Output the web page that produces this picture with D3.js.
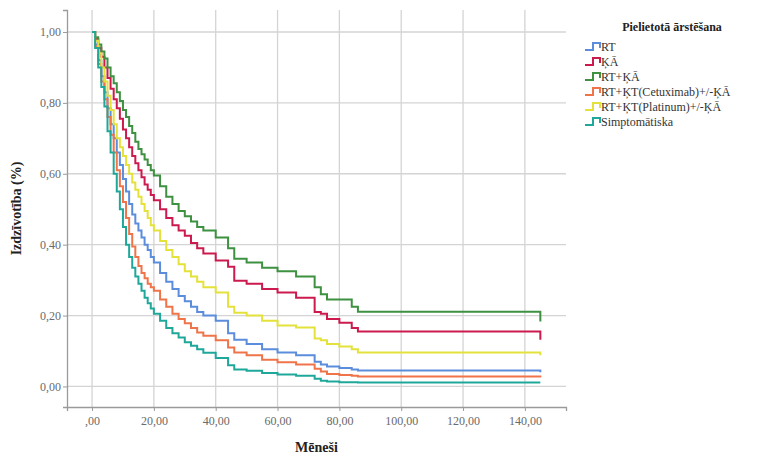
<!DOCTYPE html>
<html>
<head>
<meta charset="utf-8">
<script src="https://cdn.jsdelivr.net/npm/d3@7"></script>
<style>
    body { margin: 0; background: #fff; }
    svg text { font-family: "Liberation Serif", "Times New Roman", Times, "DejaVu Serif", serif !important; }
</style>
</head>
<body>
<div id="chart"></div>
<script>
// Time points (months) shared by all curves; last point repeated for the final drop
const months = [0, 1, 2, 3, 4, 5, 6, 7, 8, 9, 10, 11, 12, 13, 14, 15, 16, 17, 18, 19, 20,
    22, 24, 26, 28, 30, 32, 34, 36, 40, 44, 46, 50, 55, 60, 66, 72, 74, 76, 80, 84, 86, 145, 145];

const rt = [1, 0.965, 0.92, 0.875, 0.83, 0.785, 0.74, 0.70, 0.66, 0.625, 0.585, 0.55, 0.515, 0.485, 0.46, 0.44, 0.42, 0.40, 0.385, 0.365, 0.35,
    0.32, 0.295, 0.275, 0.255, 0.24, 0.225, 0.21, 0.20, 0.185, 0.15, 0.132, 0.12, 0.105, 0.096, 0.088, 0.07, 0.062, 0.056, 0.052, 0.048, 0.045, 0.045, 0.04];
const ka = [1, 0.98, 0.955, 0.93, 0.90, 0.87, 0.84, 0.81, 0.785, 0.755, 0.725, 0.70, 0.675, 0.65, 0.63, 0.61, 0.59, 0.57, 0.555, 0.54, 0.525,
    0.50, 0.475, 0.455, 0.44, 0.425, 0.405, 0.39, 0.375, 0.355, 0.338, 0.298, 0.29, 0.275, 0.265, 0.25, 0.21, 0.205, 0.19, 0.18, 0.165, 0.155, 0.155, 0.132];
const rtKa = [1, 0.985, 0.965, 0.945, 0.925, 0.90, 0.875, 0.855, 0.83, 0.805, 0.78, 0.76, 0.735, 0.715, 0.69, 0.67, 0.655, 0.64, 0.625, 0.61, 0.595,
    0.565, 0.535, 0.515, 0.495, 0.48, 0.465, 0.45, 0.44, 0.42, 0.39, 0.36, 0.35, 0.335, 0.325, 0.31, 0.28, 0.26, 0.245, 0.245, 0.225, 0.211, 0.211, 0.183];
const cetux = [1, 0.96, 0.91, 0.86, 0.81, 0.76, 0.71, 0.66, 0.61, 0.565, 0.52, 0.475, 0.43, 0.395, 0.365, 0.34, 0.32, 0.305, 0.29, 0.28, 0.27,
    0.245, 0.225, 0.205, 0.19, 0.178, 0.165, 0.152, 0.143, 0.13, 0.11, 0.096, 0.088, 0.075, 0.068, 0.062, 0.05, 0.042, 0.035, 0.032, 0.03, 0.028, 0.028, 0.025];
const platin = [1, 0.975, 0.94, 0.90, 0.86, 0.82, 0.78, 0.74, 0.70, 0.675, 0.65, 0.625, 0.60, 0.575, 0.555, 0.535, 0.515, 0.495, 0.475, 0.455, 0.44,
    0.41, 0.385, 0.365, 0.345, 0.325, 0.31, 0.295, 0.28, 0.265, 0.225, 0.208, 0.20, 0.185, 0.172, 0.166, 0.135, 0.13, 0.12, 0.113, 0.105, 0.096, 0.096, 0.088];
const simpt = [1, 0.955, 0.90, 0.845, 0.79, 0.72, 0.66, 0.60, 0.55, 0.50, 0.45, 0.40, 0.365, 0.335, 0.31, 0.29, 0.27, 0.25, 0.235, 0.22, 0.205,
    0.185, 0.165, 0.15, 0.138, 0.125, 0.115, 0.105, 0.095, 0.08, 0.06, 0.048, 0.044, 0.038, 0.034, 0.03, 0.022, 0.016, 0.014, 0.012, 0.012, 0.011, 0.011, 0.011];

const seriesNames = ["RT", "ĶĀ", "RT+ĶĀ", "RT+ĶT(Cetuximab)+/-ĶĀ", "RT+ĶT(Platinum)+/-ĶĀ", "Simptomātiska"];
const seriesValues = [rt, ka, rtKa, cetux, platin, simpt];
const seriesColors = ["#5b8ddc", "#cc1a4e", "#3d9140", "#f0744a", "#e4e23a", "#1fa89a"];

const xTicks = [0, 20, 40, 60, 80, 100, 120, 140];
const yTicks = [0, 0.2, 0.4, 0.6, 0.8, 1.0];

// comma decimal formats like the original
const fmtX = d => d === 0 ? ",00" : d3.format(".2f")(d).replace(".", ",");
const fmtY = d => d3.format(".2f")(d).replace(".", ",");

const serif = "'Liberation Serif', 'Times New Roman', Times, 'DejaVu Serif', serif";

const W = 765, H = 457;
const margin = { top: 10, right: 199, bottom: 50, left: 67 };
const width = W - margin.left - margin.right;
const height = H - margin.top - margin.bottom;

const svg = d3.select("#chart").append("svg")
    .attr("width", W)
    .attr("height", H)
    .attr("font-family", serif);

const g = svg.append("g")
    .attr("transform", `translate(${margin.left},${margin.top})`);

const x = d3.scaleLinear().domain([-8.1, 153.3]).range([0, width]);
const y = d3.scaleLinear().domain([-0.058, 1.062]).range([height, 0]);

// grid
g.append("g").selectAll("line")
    .data(xTicks).enter().append("line")
    .attr("x1", d => x(d)).attr("x2", d => x(d))
    .attr("y1", 0).attr("y2", height)
    .attr("stroke", "#d4d4d4").attr("stroke-width", 1.3);
g.append("g").selectAll("line")
    .data(yTicks).enter().append("line")
    .attr("x1", 0).attr("x2", width)
    .attr("y1", d => y(d)).attr("y2", d => y(d))
    .attr("stroke", "#d4d4d4").attr("stroke-width", 1.3);

// axes
const xAxis = d3.axisBottom(x).tickValues(xTicks).tickFormat(fmtX).tickSize(4).tickPadding(5);
const yAxis = d3.axisLeft(y).tickValues(yTicks).tickFormat(fmtY).tickSize(4).tickPadding(2);

const gx = g.append("g").attr("transform", `translate(0,${height})`).call(xAxis);
const gy = g.append("g").call(yAxis);
[gx, gy].forEach(a => {
    a.attr("font-family", serif);
    a.select(".domain").attr("stroke", "#9a9a9a").attr("stroke-width", 1.3);
    a.selectAll(".tick line").attr("stroke", "#9a9a9a");
    a.selectAll(".tick text")
        .attr("fill", "#6a6a6a")
        .style("font-size", "12px");
});

// survival curves
const line = d3.line()
    .x(d => x(d[0]))
    .y(d => y(d[1]))
    .curve(d3.curveStepAfter);

seriesValues.forEach((vals, i) => {
    const pts = months.map((m, j) => [m, vals[j]]);
    g.append("path")
        .datum(pts)
        .attr("fill", "none")
        .attr("stroke", seriesColors[i])
        .attr("stroke-width", 2)
        .attr("d", line);
});

// axis titles
svg.append("text")
    .attr("x", margin.left + width / 2)
    .attr("y", 452)
    .attr("text-anchor", "middle")
    .style("font-size", "14px")
    .style("font-weight", "bold")
    .attr("fill", "#222")
    .text("Mēneši");

svg.append("text")
    .attr("transform", `translate(21,${margin.top + height / 2}) rotate(-90)`)
    .attr("text-anchor", "middle")
    .style("font-size", "14px")
    .style("font-weight", "bold")
    .attr("fill", "#222")
    .text("Izdzīvotība (%)");

// legend
const legend = svg.append("g").attr("transform", "translate(585,0)");
legend.append("text")
    .attr("x", 87).attr("y", 31)
    .attr("text-anchor", "middle")
    .style("font-size", "12px")
    .style("font-weight", "bold")
    .attr("fill", "#222")
    .text("Pielietotā ārstēšana");

const items = legend.selectAll("g.item")
    .data(seriesNames).enter().append("g")
    .attr("transform", (d, i) => `translate(0,${47 + i * 15})`);

items.append("path")
    .attr("d", "M0,3H8V-4H15V1")
    .attr("fill", "none")
    .attr("stroke", (d, i) => seriesColors[i])
    .attr("stroke-width", 2);

items.append("text")
    .attr("x", 16).attr("y", 4)
    .style("font-size", "12px")
    .attr("fill", "#333")
    .text(d => d);
</script>
</body>
</html>
